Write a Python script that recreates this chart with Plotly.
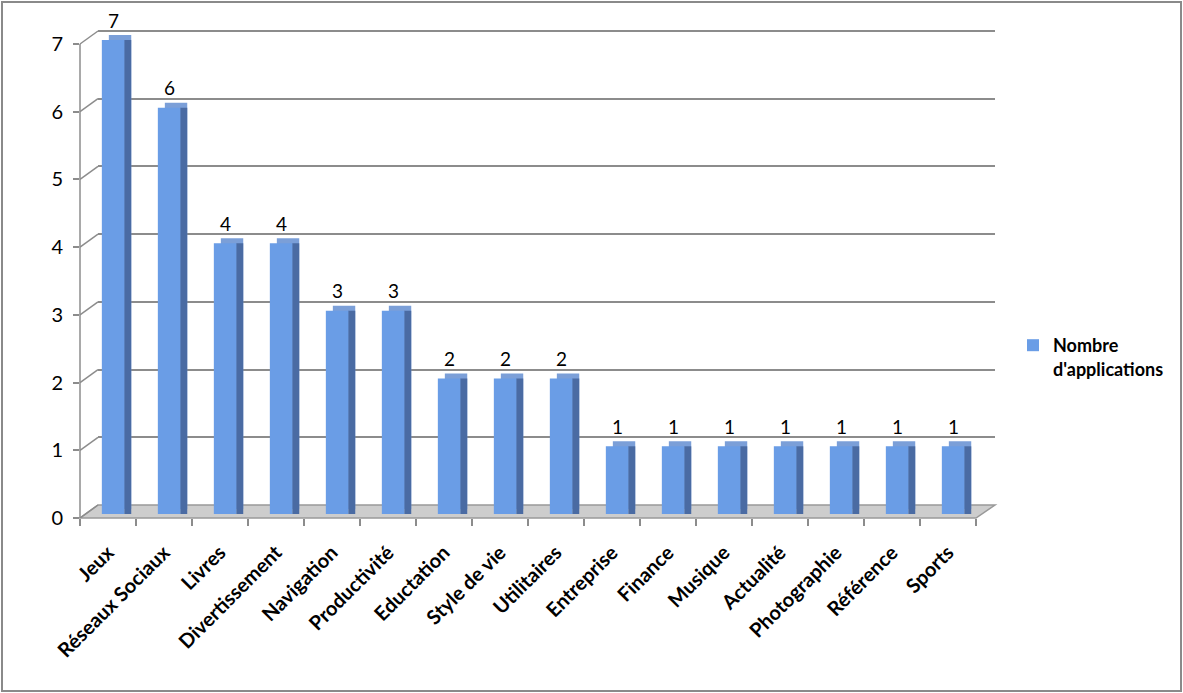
import plotly.graph_objects as go

# categories and counts
categories = ["Jeux", "Réseaux Sociaux", "Livres", "Divertissement", "Navigation",
              "Productivité", "Eductation", "Style de vie", "Utilitaires", "Entreprise",
              "Finance", "Musique", "Actualité", "Photographie", "Référence", "Sports"]
counts = [7, 6, 4, 4, 3, 3, 2, 2, 2, 1, 1, 1, 1, 1, 1, 1]
series_name = "Nombre<br>d'applications"
y_ticks = [0, 1, 2, 3, 4, 5, 6, 7]

# pixel layout of the plot box (front axis 80..976, back wall 98..995)
L, R, T, B = 80, 995, 27, 518
W, H = R - L, B - T
UNIT = 67.7  # px per unit on the value axis


def px(x):
    return (x - L) / W


def py(y):
    return (B - y) / H


FONT = "Lato, Carlito, Calibri, sans-serif"
GRID = "#8c8c8c"

lift = 4 / UNIT       # bars stand a bit behind the front edge of the floor
depth_y = 5 / UNIT    # top face height in data units
bar_off = -0.11
bar_w = 0.40
side_w = 0.125

fig = go.Figure()

# empty trace so the back-wall subplot (gridlines) gets drawn
fig.add_trace(go.Scatter(x=[], y=[], xaxis="x", yaxis="y", showlegend=False, hoverinfo="skip"))

# top face (drawn first, peeks out above the front)
fig.add_trace(go.Bar(
    x=categories, y=counts, base=lift + depth_y,
    offset=bar_off + side_w, width=bar_w,
    marker=dict(color="#7b9fd8", line=dict(width=0)),
    xaxis="x2", yaxis="y2", showlegend=False, hoverinfo="skip", cliponaxis=False,
))
# side face
fig.add_trace(go.Bar(
    x=categories, y=counts, base=lift,
    offset=bar_off + bar_w, width=side_w,
    marker=dict(color="#4a6ba3", line=dict(width=0)),
    xaxis="x2", yaxis="y2", showlegend=False, hoverinfo="skip", cliponaxis=False,
))
# front face
fig.add_trace(go.Bar(
    x=categories, y=counts, base=lift,
    offset=bar_off, width=bar_w, name=series_name,
    marker=dict(color="#6a9de6", line=dict(width=0)),
    xaxis="x2", yaxis="y2", cliponaxis=False,
))

# value labels
for c, v in zip(categories, counts):
    fig.add_annotation(x=c, y=v, xref="x2", yref="y2", text=str(v), showarrow=False,
                       xshift=5, yshift=24, font=dict(family=FONT, size=19, color="black"))

shapes = []
# floor
shapes.append(dict(type="path", xref="paper", yref="paper", layer="below",
                   path="M 0,0 L %f,0 L %f,%f L %f,%f Z" % (px(976), px(995), py(505), px(98), py(505)),
                   fillcolor="#cdcdcd", line=dict(color="#999999", width=1.5)))
# front value axis line (0..7 only)
shapes.append(dict(type="line", xref="paper", yref="y2", x0=0, x1=0, y0=0, y1=max(y_ticks),
                   line=dict(color=GRID, width=1.5), layer="below"))
# diagonal ticks linking front axis to back wall
for t in y_ticks:
    shapes.append(dict(type="line", xref="paper", yref="y2", x0=0, x1=px(98),
                       y0=t, y1=t + 13 / UNIT, line=dict(color=GRID, width=1.5), layer="below"))
# outer frame
shapes.append(dict(type="rect", xref="paper", yref="paper",
                   x0=px(2), x1=px(1181), y0=py(691), y1=py(2),
                   line=dict(color="#8a8a8a", width=2)))

back_top = 7 + 4 / UNIT   # a little headroom so the 7 gridline is kept
front_top = 7 + 17 / UNIT  # headroom so the tallest bar is not clipped

fig.update_layout(
    width=1183, height=693,
    margin=dict(l=L, r=1183 - R, t=T, b=693 - B),
    paper_bgcolor="white", plot_bgcolor="rgba(0,0,0,0)",
    barmode="overlay",
    shapes=shapes,
    font=dict(family=FONT, color="black"),
    # back wall: gridlines only
    xaxis=dict(domain=[px(98), 1], range=[-0.5, 15.5], showgrid=False, zeroline=False,
               showticklabels=False, ticks="", showline=False, anchor="y"),
    yaxis=dict(domain=[py(505), 1], range=[0, back_top], dtick=1, showgrid=True, gridcolor=GRID,
               gridwidth=1.5, showticklabels=False, zeroline=False, ticks="", anchor="x"),
    # front axes
    xaxis2=dict(domain=[0, px(976)], range=[-0.5, 15.5], anchor="y2",
                type="category", categoryorder="array", categoryarray=categories,
                tickson="boundaries", ticks="outside", ticklen=7, tickcolor=GRID, tickwidth=1.5,
                tickangle=-45, ticklabelstandoff=18, showgrid=False, zeroline=False, showline=False,
                tickfont=dict(family=FONT, size=20, color="black", weight="bold")),
    yaxis2=dict(domain=[0, py(44 - 17)], range=[0, front_top], anchor="x2", tickvals=y_ticks,
                ticks="outside", ticklen=6, tickcolor=GRID, tickwidth=1.5, ticklabelstandoff=6,
                showline=False, showgrid=False, zeroline=False,
                tickfont=dict(family=FONT, size=20, color="black")),
    legend=dict(x=px(1013), y=py(327), xanchor="left", yanchor="top", valign="top",
                font=dict(family=FONT, size=18, color="black", weight="bold"),
                bgcolor="rgba(0,0,0,0)"),
    showlegend=True,
)

fig.write_html("out.html", config={"displayModeBar": False},
               post_script="document.body.style.margin='0';")
